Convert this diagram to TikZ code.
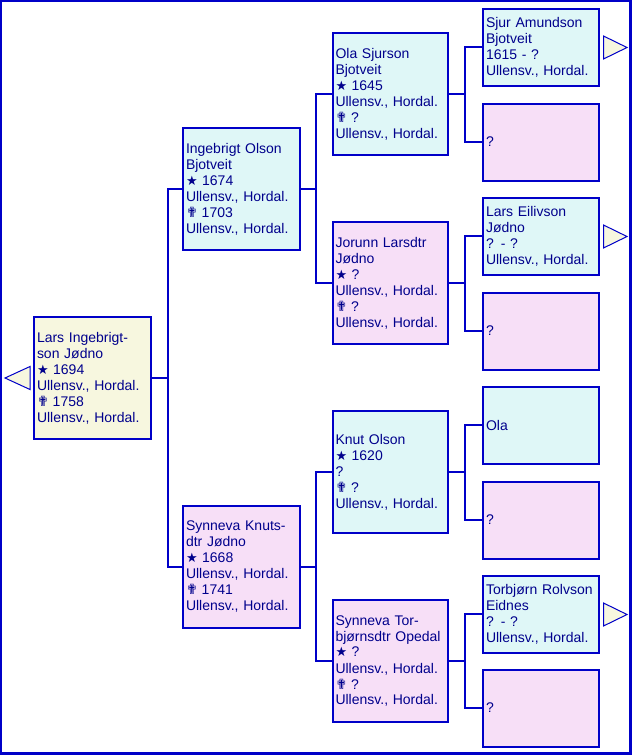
\documentclass[tikz,border=0pt]{standalone}
\usepackage{fontspec}
\setmainfont{Liberation Sans}
\newfontfamily\symfont{DejaVu Sans}
\definecolor{lineblue}{RGB}{0,0,200}
\definecolor{txtblue}{RGB}{0,0,140}
\definecolor{cyanf}{RGB}{223,247,247}
\definecolor{pinkf}{RGB}{247,223,247}
\definecolor{creamf}{RGB}{247,247,223}
\newcommand{\bstar}{{\symfont\fontsize{13}{13}\selectfont ★}\hspace{4.5pt}}
\newcommand{\bcross}{{\symfont\fontsize{14}{14}\selectfont ✟}\hspace{4pt}}
\begin{document}
\begin{tikzpicture}[x=1pt,y=-1pt,
  person/.style={draw=lineblue, line width=2pt, text=txtblue, align=left,
    inner xsep=3pt, inner ysep=0pt, font=\fontsize{14}{16}\selectfont},
  gA/.style={person, text width=111pt, minimum height=122pt},
  gB/.style={person, text width=109pt, minimum height=122pt},
  gC/.style={person, text width=110pt, minimum height=77pt},
  conn/.style={draw=lineblue, line width=2pt},
  tri/.style={draw=lineblue, line width=1pt, fill=creamf, line join=miter}
]
\useasboundingbox (0,0) rectangle (632,756);
\draw[lineblue, line width=2.5pt] (1,1) rectangle (630.5,753.5);

% generation 1
\node[gA, fill=creamf] (root) at (92.5,378) {Lars Ingebrigt-\\son Jødno\\\bstar 1694\\Ullensv., Hordal.\\\bcross 1758\\Ullensv., Hordal.};
% generation 2
\node[gA, fill=cyanf] (ing) at (241.5,189) {Ingebrigt Olson\\Bjotveit\\\bstar 1674\\Ullensv., Hordal.\\\bcross 1703\\Ullensv., Hordal.};
\node[gA, fill=pinkf] (syn) at (241.5,567) {Synneva Knuts-\\dtr Jødno\\\bstar 1668\\Ullensv., Hordal.\\\bcross 1741\\Ullensv., Hordal.};
% generation 3
\node[gB, fill=cyanf] (ola) at (390,94) {Ola Sjurson\\Bjotveit\\\bstar 1645\\Ullensv., Hordal.\\\bcross ?\\Ullensv., Hordal.};
\node[gB, fill=pinkf] (jor) at (390,283) {Jorunn Larsdtr\\Jødno\\\bstar ?\\Ullensv., Hordal.\\\bcross ?\\Ullensv., Hordal.};
\node[gB, fill=cyanf] (knut) at (390,472) {Knut Olson\\\bstar 1620\\?\\\bcross ?\\Ullensv., Hordal.};
\node[gB, fill=pinkf] (synt) at (390,661) {Synneva Tor-\\bjørnsdtr Opedal\\\bstar ?\\Ullensv., Hordal.\\\bcross ?\\Ullensv., Hordal.};
% generation 4
\node[gC, fill=cyanf] (sjur) at (541,47) {Sjur Amundson\\Bjotveit\\1615 - ?\\Ullensv., Hordal.};
\node[gC, fill=pinkf] (q1) at (541,142) {?};
\node[gC, fill=cyanf] (lars) at (541,236) {Lars Eilivson\\Jødno\\? - ?\\Ullensv., Hordal.};
\node[gC, fill=pinkf] (q2) at (541,331) {?};
\node[gC, fill=cyanf] (ola2) at (541,425) {Ola};
\node[gC, fill=pinkf] (q3) at (541,520) {?};
\node[gC, fill=cyanf] (torb) at (541,614) {Torbjørn Rolvson\\Eidnes\\? - ?\\Ullensv., Hordal.};
\node[gC, fill=pinkf] (q4) at (541,708) {?};

% junctions
\coordinate (j0) at (168,378);
\coordinate (j1) at (316,189);
\coordinate (j2) at (316,567);
\coordinate (j3) at (465,94);
\coordinate (j4) at (465,283);
\coordinate (j5) at (465,472);
\coordinate (j6) at (465,661);

\draw[conn] (root.east) -- (j0);
\draw[conn] (ing.west) -| (j0) |- (syn.west);
\draw[conn] (ing.east) -- (j1);
\draw[conn] (ola.west) -| (j1) |- (jor.west);
\draw[conn] (syn.east) -- (j2);
\draw[conn] (knut.west) -| (j2) |- (synt.west);
\draw[conn] (ola.east) -- (j3);
\draw[conn] (sjur.west) -| (j3) |- (q1.west);
\draw[conn] (jor.east) -- (j4);
\draw[conn] (lars.west) -| (j4) |- (q2.west);
\draw[conn] (knut.east) -- (j5);
\draw[conn] (ola2.west) -| (j5) |- (q3.west);
\draw[conn] (synt.east) -- (j6);
\draw[conn] (torb.west) -| (j6) |- (q4.west);

% navigation triangles
\draw[tri] (30,366.5) -- (5,378) -- (30,389.5) -- cycle;
\draw[tri] (603.5,36) -- (627,47.5) -- (603.5,59) -- cycle;
\draw[tri] (603.5,225) -- (627,236.5) -- (603.5,248) -- cycle;
\draw[tri] (603.5,603) -- (627,614.5) -- (603.5,626) -- cycle;
\end{tikzpicture}
\end{document}
